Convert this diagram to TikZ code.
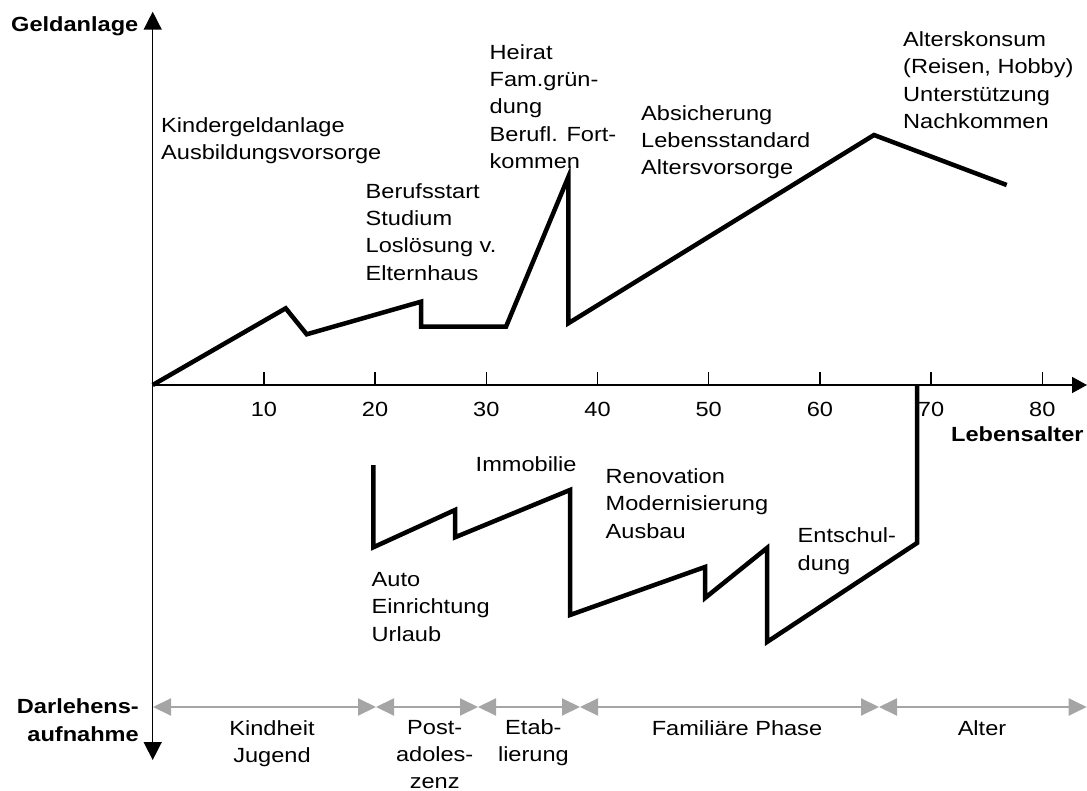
\documentclass[tikz,border=0pt]{standalone}
\usepackage{fontspec}
\setmainfont{Liberation Sans}[FakeStretch=1.15]
\usetikzlibrary{arrows.meta}
\definecolor{phasegray}{RGB}{165,165,165}
\begin{document}
\begin{tikzpicture}[x=1pt,y=-1pt,
  lbl/.style={inner sep=0pt, font=\fontsize{20.5pt}{27.4pt}\selectfont},
  % multi-line nodes are placed by the baseline of their last line
  txtleft/.style={lbl, align=left, anchor=base west},
  axislbl/.style={inner sep=0pt, font=\fontsize{20.5pt}{28.4pt}\selectfont\bfseries},
  axisline/.style={line width=1.5pt},
  tickline/.style={line width=1.3pt},
  curve/.style={line width=4.5pt, line join=miter},
  vtip/.tip={Triangle[length=18pt,width=18pt]},
  ptip/.tip={Triangle[length=18pt,width=17pt,fill=phasegray]},
  phase/.style={draw=phasegray, line width=2pt, ptip-ptip},
  phaselbl/.style={inner sep=0pt, font=\fontsize{20.5pt}{27pt}\selectfont, align=center, anchor=base},
]
\useasboundingbox (0,0) rectangle (1087,791);

% axes
\coordinate (O) at (152.7,385);
\coordinate (ytop) at (152.7,11.7);
\coordinate (ybot) at (152.7,760);
\coordinate (xend) at (1087,385);
\draw[axisline, vtip-vtip] (ybot) -- (ytop);
\draw[axisline, -{Triangle[length=15pt,width=16pt]}] (O) -- (xend);

% ticks and their labels
\foreach \k in {1,...,8}{
  \draw[tickline] ({152.7+111.2*\k},385) -- ({152.7+111.2*\k},372);
  \node[lbl, anchor=base] (tick\k) at ({152.7+111.2*\k},416.7) {\k0};
}

% axis titles
\node[axislbl, anchor=base east] (geld) at (138.5,32) {Geldanlage};
\node[axislbl, anchor=base west] (alter) at (951,441.7) {Lebensalter};
\node[axislbl, anchor=base east, align=right] (darl) at (139,741.7) {Darlehens-\\aufnahme};

% life phases
\coordinate (p0) at (153,707);
\coordinate (p1) at (376,707);
\coordinate (p2) at (478,707);
\coordinate (p3) at (580,707);
\coordinate (p4) at (879,707);
\coordinate (p5) at (1086.7,707);
\draw[phase] (p0) -- (p1);
\draw[phase] (p1) -- (p2);
\draw[phase] (p2) -- (p3);
\draw[phase] (p3) -- (p4);
\draw[phase] (p4) -- (p5);
\node[phaselbl] (ph1) at (272,762) {Kindheit\\Jugend};
\node[phaselbl] (ph2) at (434.7,788.5) {Post-\\adoles-\\zenz};
\node[phaselbl] (ph3) at (533.4,761.3) {Etab-\\lierung};
\node[phaselbl] (ph4) at (737,735) {Familiäre Phase};
\node[phaselbl] (ph5) at (982,735) {Alter};

% savings texts
\node[txtleft] (t1) at (161,160) {Kindergeldanlage\\Ausbildungsvorsorge};
\node[txtleft] (t2) at (365.5,280.3) {Berufsstart\\Studium\\Loslösung v.\\Elternhaus};
\node[txtleft] (t3) at (489.5,168.8) {Heirat\\Fam.grün-\\dung\\Berufl. Fort-\\kommen};
\node[txtleft] (t4) at (641,175) {Absicherung\\Lebensstandard\\Altersvorsorge};
\node[txtleft] (t5) at (903,128.6) {Alterskonsum\\(Reisen, Hobby)\\Unterstützung\\Nachkommen};

% loan texts
\node[txtleft] (t6) at (475.5,471) {Immobilie};
\node[txtleft] (t7) at (605.5,538) {Renovation\\Modernisierung\\Ausbau};
\node[txtleft] (t8) at (371.5,641) {Auto\\Einrichtung\\Urlaub};
\node[txtleft] (t9) at (797.5,570) {Entschul-\\dung};

% savings curve
\draw[curve] (O) -- (285.7,308.3) -- (306.7,334.3) -- (421,301.7) -- (421,326.7)
  -- (506,326.7) -- (568.3,177) -- (568.3,323.3) -- (874,135) -- (1006.7,185);

% loan curve
\draw[curve] (373.3,465) -- (373.3,547.3) -- (455,510) -- (455,537.3) -- (570,490)
  -- (570,615) -- (705,567) -- (705,598) -- (767,548) -- (767,642) -- (917,543) -- (917,385);
\end{tikzpicture}
\end{document}
